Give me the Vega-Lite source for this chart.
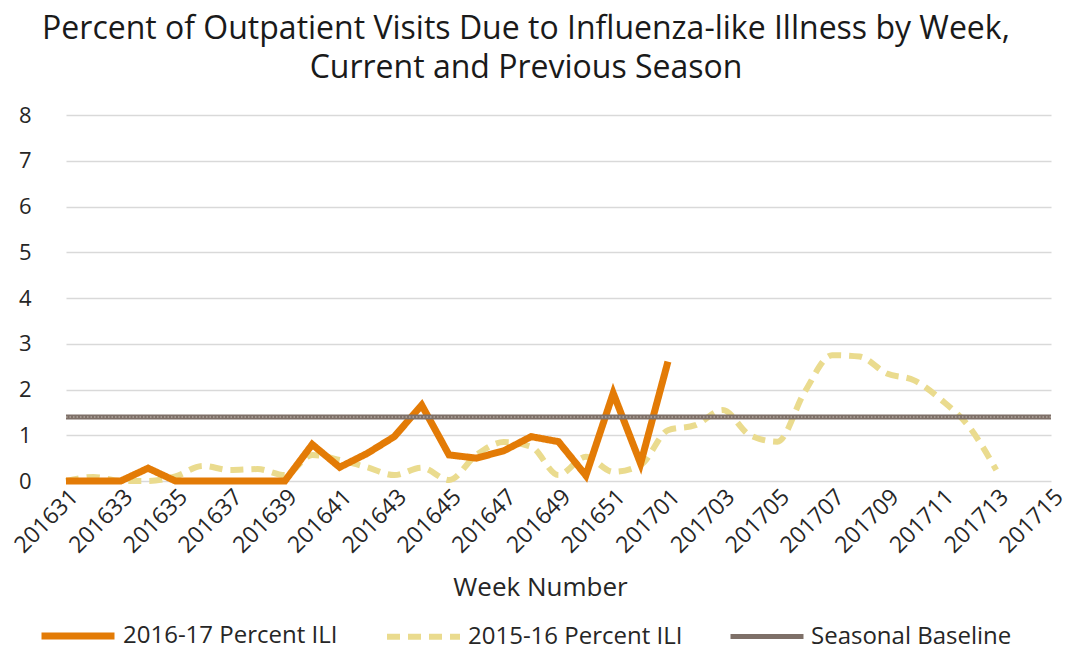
{
  "$schema": "https://vega.github.io/schema/vega-lite/v6.json",
  "autosize": "none",
  "width": 1038,
  "height": 366,
  "padding": {"left": 52, "top": 115, "right": 0, "bottom": 169},
  "background": "white",
  "config": {
    "font": "Open Sans",
    "view": {"stroke": null},
    "axis": {"labelFont": "Open Sans", "titleFont": "Open Sans", "labelColor": "#262626", "titleColor": "#262626"}
  },
  "title": {
    "text": ["Percent of Outpatient Visits Due to Influenza-like Illness by Week,", "Current and Previous Season"],
    "fontSize": 32,
    "fontWeight": "normal",
    "color": "#1a1a1a",
    "lineHeight": 39,
    "anchor": "middle",
    "dx": -45,
    "offset": 19
  },
  "data": {
    "values": [
      {"week": "201631", "a": 0, "b": 0, "c": 1.4},
      {"week": "201632", "a": 0, "b": 0.09, "c": 1.4},
      {"week": "201633", "a": 0, "b": 0, "c": 1.4},
      {"week": "201634", "a": 0.28, "b": 0, "c": 1.4},
      {"week": "201635", "a": 0, "b": 0.1, "c": 1.4},
      {"week": "201636", "a": 0, "b": 0.33, "c": 1.4},
      {"week": "201637", "a": 0, "b": 0.24, "c": 1.4},
      {"week": "201638", "a": 0, "b": 0.26, "c": 1.4},
      {"week": "201639", "a": 0, "b": 0.13, "c": 1.4},
      {"week": "201640", "a": 0.8, "b": 0.57, "c": 1.4},
      {"week": "201641", "a": 0.3, "b": 0.46, "c": 1.4},
      {"week": "201642", "a": 0.6, "b": 0.3, "c": 1.4},
      {"week": "201643", "a": 0.97, "b": 0.13, "c": 1.4},
      {"week": "201644", "a": 1.66, "b": 0.29, "c": 1.4},
      {"week": "201645", "a": 0.57, "b": 0.02, "c": 1.4},
      {"week": "201646", "a": 0.5, "b": 0.57, "c": 1.4},
      {"week": "201647", "a": 0.66, "b": 0.85, "c": 1.4},
      {"week": "201648", "a": 0.97, "b": 0.75, "c": 1.4},
      {"week": "201649", "a": 0.86, "b": 0.13, "c": 1.4},
      {"week": "201650", "a": 0.12, "b": 0.53, "c": 1.4},
      {"week": "201651", "a": 1.92, "b": 0.2, "c": 1.4},
      {"week": "201652", "a": 0.38, "b": 0.35, "c": 1.4},
      {"week": "201701", "a": 2.61, "b": 1.11, "c": 1.4},
      {"week": "201702", "a": null, "b": 1.22, "c": 1.4},
      {"week": "201703", "a": null, "b": 1.55, "c": 1.4},
      {"week": "201704", "a": null, "b": 1.0, "c": 1.4},
      {"week": "201705", "a": null, "b": 0.86, "c": 1.4},
      {"week": "201706", "a": null, "b": 1.95, "c": 1.4},
      {"week": "201707", "a": null, "b": 2.75, "c": 1.4},
      {"week": "201708", "a": null, "b": 2.72, "c": 1.4},
      {"week": "201709", "a": null, "b": 2.35, "c": 1.4},
      {"week": "201710", "a": null, "b": 2.2, "c": 1.4},
      {"week": "201711", "a": null, "b": 1.77, "c": 1.4},
      {"week": "201712", "a": null, "b": 1.19, "c": 1.4},
      {"week": "201713", "a": null, "b": 0.24, "c": 1.4},
      {"week": "201714", "a": null, "b": null, "c": 1.4},
      {"week": "201715", "a": null, "b": null, "c": 1.4}
    ]
  },
  "transform": [
    {"fold": ["a", "b", "c"], "as": ["key", "value"]},
    {"lookup": "key", "from": {"data": {"values": [
      {"key": "a", "series": "2016-17 Percent ILI"},
      {"key": "b", "series": "2015-16 Percent ILI"},
      {"key": "c", "series": "Seasonal Baseline"}
    ]}, "key": "key", "fields": ["series"]}}
  ],
  "encoding": {
    "x": {
      "field": "week",
      "type": "ordinal",
      "sort": null,
      "scale": {"type": "point", "range": [14, 999], "padding": 0},
      "axis": {
        "title": "Week Number",
        "titleFontSize": 26,
        "titleFontWeight": "normal",
        "titleX": 488,
        "titlePadding": 17,
        "labelFontSize": 23,
        "labelAngle": -45,
        "labelAlign": "right",
        "labelBaseline": "middle",
        "labelPadding": 12,
        "labelOffset": 8,
        "labelOverlap": false,
        "values": ["201631","201633","201635","201637","201639","201641","201643","201645","201647","201649","201651","201701","201703","201705","201707","201709","201711","201713","201715"],
        "domain": false,
        "ticks": false,
        "grid": false
      }
    },
    "y": {
      "field": "value",
      "type": "quantitative",
      "scale": {"domain": [0, 8], "nice": false},
      "axis": {
        "title": null,
        "values": [0, 1, 2, 3, 4, 5, 6, 7, 8],
        "labelFontSize": 22,
        "labelPadding": 21,
        "domain": false,
        "ticks": false,
        "gridColor": "#d9d9d9",
        "gridWidth": 1.5
      }
    },
    "color": {
      "field": "series",
      "type": "nominal",
      "scale": {
        "domain": ["2016-17 Percent ILI", "2015-16 Percent ILI", "Seasonal Baseline"],
        "range": ["#E37B06", "#EADB8E", "#7E7068"]
      },
      "legend": {
        "title": null,
        "orient": "none",
        "direction": "horizontal",
        "legendX": -14,
        "legendY": 481,
        "symbolType": "stroke",
        "symbolSize": 5329,
        "labelFontSize": 24,
        "labelColor": "#262626",
        "labelLimit": 400,
        "labelOffset": 5,
        "columnPadding": 37
      }
    },
    "strokeDash": {
      "field": "series",
      "type": "nominal",
      "scale": {
        "domain": ["2016-17 Percent ILI", "2015-16 Percent ILI", "Seasonal Baseline"],
        "range": [[1, 0], [13, 8], [1, 0]]
      }
    },
    "strokeWidth": {
      "field": "series",
      "type": "nominal",
      "scale": {
        "domain": ["2016-17 Percent ILI", "2015-16 Percent ILI", "Seasonal Baseline"],
        "range": [7, 5, 4]
      }
    }
  },
  "layer": [
    {
      "transform": [{"filter": "datum.key === 'b'"}],
      "mark": {"type": "line", "interpolate": "monotone"}
    },
    {
      "transform": [{"filter": "datum.key === 'a'"}],
      "mark": {"type": "line"}
    },
    {
      "transform": [{"filter": "datum.key === 'c'"}],
      "mark": {"type": "line"}
    },
    {
      "transform": [{"filter": "datum.key === 'c'"}],
      "mark": {"type": "line"},
      "encoding": {
        "color": {"value": "#b3a79f"},
        "strokeDash": {"value": [1.5, 2]},
        "strokeWidth": {"value": 1.5}
      }
    }
  ]
}
